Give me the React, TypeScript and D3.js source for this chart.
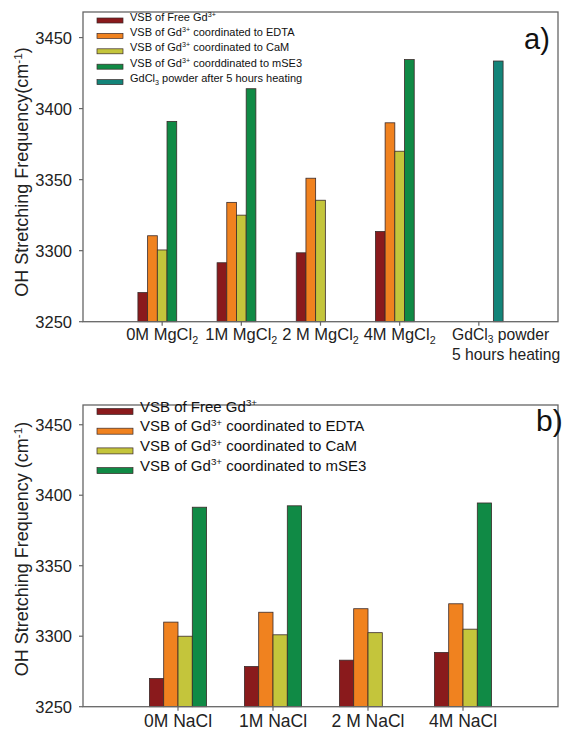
import React from "react";
import * as d3 from "d3";

// ---------- Data ----------
const categoriesA = ["0M MgCl_{2}", "1M MgCl_{2}", "2 M MgCl_{2}", "4M MgCl_{2}", "GdCl_{3} powder|5 hours heating"];
const seriesNamesA = [
  "VSB of Free Gd^{3+}",
  "VSB of Gd^{3+} coordinated to EDTA",
  "VSB of Gd^{3+} coordinated to CaM",
  "VSB of Gd^{3+} coorddinated to mSE3",
  "GdCl_{3} powder after 5 hours heating",
];
const freeA = [3270.5, 3291.5, 3298.5, 3313.5, null];
const edtaA = [3310.5, 3334, 3351, 3390, null];
const camA = [3300.5, 3325, 3335.5, 3370, null];
const mse3A = [3391, 3414, null, 3434.5, null];
const gdcl3A = [null, null, null, null, 3433.5];

const categoriesB = ["0M NaCl", "1M NaCl", "2 M NaCl", "4M NaCl"];
const seriesNamesB = [
  "VSB of Free Gd^{3+}",
  "VSB of Gd^{3+} coordinated to EDTA",
  "VSB of Gd^{3+} coordinated to CaM",
  "VSB of Gd^{3+} coordinated to mSE3",
];
const freeB = [3270, 3278.5, 3283, 3288.5];
const edtaB = [3310, 3317, 3319.5, 3323];
const camB = [3300, 3301, 3302.5, 3305];
const mse3B = [3391.5, 3392.5, null, 3394.5];

const yTicks = [3250, 3300, 3350, 3400, 3450];
const yLabelA = "OH Stretching Frequency(cm^{-1})";
const yLabelB = "OH Stretching Frequency (cm^{-1})";

const colors = ["#8a1a1c", "#f0821f", "#c4c53b", "#108a45", "#138479"];

const FONT = "'Liberation Sans', Arial, Helvetica, sans-serif";

function Rich({ s, fs }: { s: string; fs: number }) {
  const parts = s.split(/(\^\{[^}]*\}|_\{[^}]*\})/).filter((p) => p !== "");
  let cur = 0;
  return (
    <>
      {parts.map((p, i) => {
        let off = 0;
        let text = p;
        let size = fs;
        if (p.startsWith("^{")) {
          off = -0.36 * fs;
          text = p.slice(2, -1);
          size = fs * 0.65;
        } else if (p.startsWith("_{")) {
          off = 0.22 * fs;
          text = p.slice(2, -1);
          size = fs * 0.65;
        }
        const dy = off - cur;
        cur = off;
        return (
          <tspan key={i} dy={dy} fontSize={size}>
            {text}
          </tspan>
        );
      })}
    </>
  );
}

type PanelProps = {
  top: number;
  bottom: number;
  left: number;
  right: number;
  yMax: number;
  categories: string[];
  series: (number | null)[][];
  names: string[];
  barW: number;
  slots: number;
  xSlots: number;
  legend: { x0: number; x1: number; h: number; textX: number; y0: number; dy: number; fs: number };
  catFs: number;
  catY: number;
  catLineGap: number;
  yLabel: string;
  yLabelY: number;
  tag: string;
  tagX: number;
  tagY: number;
  tagFs: number;
  lastLabelLeft?: number;
};

function Panel(p: PanelProps) {
  const y = d3.scaleLinear().domain([3250, p.yMax]).range([p.bottom, p.top]);
  const x = d3.scaleLinear().domain([0, p.xSlots]).range([p.left, p.right]);
  const axisColor = "#666";
  return (
    <g fontFamily={FONT}>
      {p.categories.map((_, ci) => {
        const cx = x(ci + 1);
        return p.series.map((s, si) => {
          const v = s[ci];
          if (v == null) return null;
          const bx = cx - (p.slots / 2) * p.barW + si * p.barW;
          return (
            <rect
              key={`${ci}-${si}`}
              x={bx}
              y={y(v)}
              width={p.barW}
              height={y(3250) - y(v)}
              fill={colors[si]}
              stroke="#3a2a2a"
              strokeWidth={0.8}
            />
          );
        });
      })}
      <rect x={p.left} y={p.top} width={p.right - p.left} height={p.bottom - p.top} fill="none" stroke={axisColor} strokeWidth={1.3} />
      {yTicks.map((t) => (
        <g key={t}>
          <line x1={p.left - 4} x2={p.left} y1={y(t)} y2={y(t)} stroke={axisColor} strokeWidth={1.2} />
          <text x={p.left - 11} y={y(t)} dy="0.36em" textAnchor="end" fontSize={16.5} fill="#222">
            {t}
          </text>
        </g>
      ))}
      {p.categories.map((c, ci) => {
        const cx = x(ci + 1);
        const lines = c.split("|");
        const isMulti = lines.length > 1 && p.lastLabelLeft != null;
        return (
          <g key={c}>
            <line x1={cx} x2={cx} y1={p.bottom} y2={p.bottom + 4} stroke={axisColor} strokeWidth={1.2} />
            {lines.map((ln, li) => (
              <text
                key={li}
                x={isMulti ? p.lastLabelLeft : cx}
                y={p.catY + li * p.catLineGap}
                textAnchor={isMulti ? "start" : "middle"}
                fontSize={isMulti ? p.catFs - 0.8 : p.catFs}
                fill="#222"
              >
                <Rich s={ln} fs={isMulti ? p.catFs - 0.8 : p.catFs} />
              </text>
            ))}
          </g>
        );
      })}
      <text transform={`translate(28,${p.yLabelY}) rotate(-90)`} textAnchor="middle" fontSize={18} fill="#222">
        <Rich s={p.yLabel} fs={18} />
      </text>
      {p.names.map((n, i) => {
        const ly = p.legend.y0 + i * p.legend.dy;
        return (
          <g key={n}>
            <rect
              x={p.legend.x0}
              y={ly - p.legend.h / 2}
              width={p.legend.x1 - p.legend.x0}
              height={p.legend.h}
              fill={colors[i]}
              stroke="#3a2a2a"
              strokeWidth={0.7}
            />
            <text x={p.legend.textX} y={ly} dy="0.36em" fontSize={p.legend.fs} fill="#111">
              <Rich s={n} fs={p.legend.fs} />
            </text>
          </g>
        );
      })}
      <text x={p.tagX} y={p.tagY} fontSize={p.tagFs} fill="#111">
        {p.tag}
      </text>
    </g>
  );
}

export default function App() {
  return (
    <svg
      width={562}
      height={730}
      viewBox="0 0 562 730"
      style={{ position: "absolute", left: 0, top: 0, background: "#fff" }}
    >
      <rect width={562} height={730} fill="#fff" />
      <Panel
        top={12}
        bottom={321.7}
        left={83}
        right={558}
        yMax={3468}
        categories={categoriesA}
        series={[freeA, edtaA, camA, mse3A, gdcl3A]}
        names={seriesNamesA}
        barW={9.7}
        slots={5}
        xSlots={6}
        legend={{ x0: 97, x1: 123, h: 5, textX: 130, y0: 20.5, dy: 15.4, fs: 11 }}
        catFs={16.5}
        catY={340}
        catLineGap={20}
        yLabel={yLabelA}
        yLabelY={172}
        tag="a)"
        tagX={524}
        tagY={49}
        tagFs={29}
        lastLabelLeft={452}
      />
      <Panel
        top={405}
        bottom={706.7}
        left={83}
        right={558}
        yMax={3464}
        categories={categoriesB}
        series={[freeB, edtaB, camB, mse3B]}
        names={seriesNamesB}
        barW={14.3}
        slots={4}
        xSlots={5}
        legend={{ x0: 97, x1: 133, h: 6, textX: 140, y0: 411.5, dy: 19.7, fs: 15 }}
        catFs={17.5}
        catY={727}
        catLineGap={20}
        yLabel={yLabelB}
        yLabelY={549}
        tag="b)"
        tagX={536}
        tagY={431}
        tagFs={30}
      />
    </svg>
  );
}
